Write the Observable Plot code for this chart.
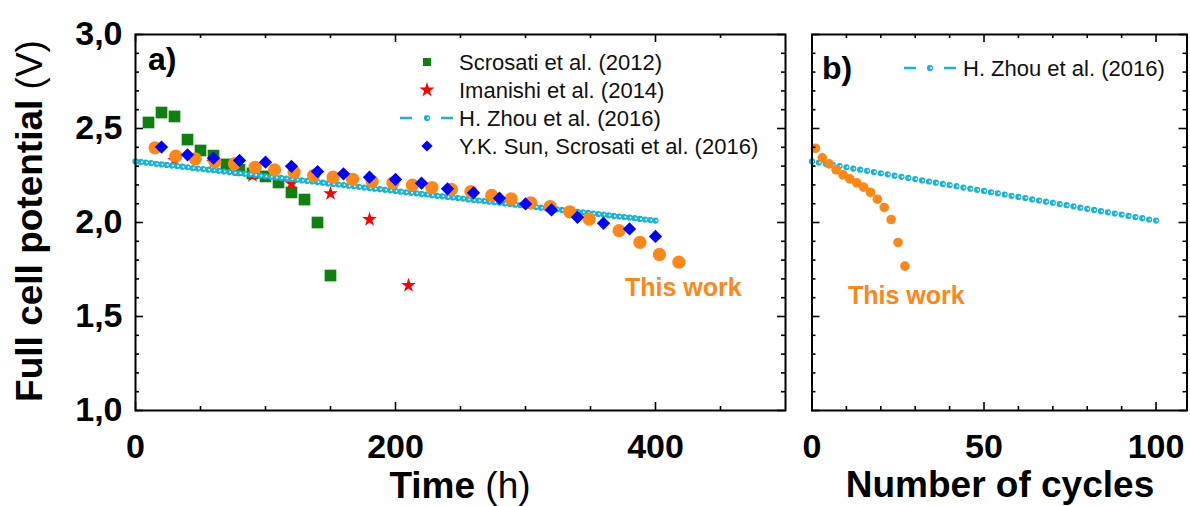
<!DOCTYPE html>
<html><head><meta charset="utf-8">
<script src="https://cdn.jsdelivr.net/npm/d3@7"></script>
<script src="https://cdn.jsdelivr.net/npm/@observablehq/plot@0.6"></script>
<style>
html,body{margin:0;padding:0;background:#fff;}
#wrap{position:relative;width:1190px;height:506px;overflow:hidden;background:#fff;}
#wrap > svg{position:absolute;top:0;}
</style></head><body><div id="wrap"></div>
<script>
// ---------- data ----------
// Panel a: time (h) vs full cell potential (V)
const scrosatiT = [10, 20, 30, 40, 50, 60, 70, 80, 90, 100, 110, 120, 130, 140, 150];
const scrosatiV = [2.532, 2.585, 2.564, 2.441, 2.383, 2.356, 2.309, 2.280, 2.261, 2.245, 2.213, 2.160, 2.122, 2.000, 1.718];

const imanishiT = [30, 60, 90, 120, 150, 180, 210];
const imanishiV = [2.330, 2.319, 2.250, 2.207, 2.154, 2.016, 1.665];

const sunT = [20, 40, 60, 80, 100, 120, 140, 160, 180, 200, 220, 240, 260, 280, 300, 320, 340, 360, 380, 400];
const sunV = [2.401, 2.360, 2.342, 2.330, 2.321, 2.299, 2.271, 2.259, 2.241, 2.229, 2.209, 2.179, 2.158, 2.129, 2.099, 2.067, 2.028, 1.996, 1.966, 1.926];

const workT = [15, 31, 46, 61, 76, 92, 107, 122, 137, 152, 167, 182, 198, 213, 228, 243, 258, 274, 289, 304, 319, 334, 349, 372, 388, 403, 418];
const workV = [2.397, 2.353, 2.339, 2.324, 2.312, 2.294, 2.280, 2.268, 2.250, 2.241, 2.230, 2.218, 2.211, 2.199, 2.186, 2.176, 2.165, 2.144, 2.126, 2.105, 2.085, 2.057, 2.018, 1.957, 1.894, 1.830, 1.789];

// H. Zhou et al. (2016): one value per cycle, cycles 0..100 (4 h per cycle in panel a)
const zhouHoursPerCycle = 4;
const zhouV = [
  2.325, 2.322, 2.319, 2.316, 2.312, 2.309, 2.306, 2.303, 2.300, 2.297,
  2.294, 2.290, 2.287, 2.284, 2.281, 2.278, 2.275, 2.271, 2.268, 2.265,
  2.262, 2.259, 2.256, 2.253, 2.249, 2.246, 2.243, 2.240, 2.237, 2.234,
  2.231, 2.227, 2.224, 2.221, 2.218, 2.215, 2.212, 2.208, 2.205, 2.202,
  2.199, 2.196, 2.193, 2.190, 2.186, 2.183, 2.180, 2.177, 2.174, 2.171,
  2.168, 2.164, 2.161, 2.158, 2.155, 2.152, 2.149, 2.145, 2.142, 2.139,
  2.136, 2.133, 2.130, 2.127, 2.123, 2.120, 2.117, 2.114, 2.111, 2.108,
  2.105, 2.101, 2.098, 2.095, 2.092, 2.089, 2.086, 2.082, 2.079, 2.076,
  2.073, 2.070, 2.067, 2.064, 2.060, 2.057, 2.054, 2.051, 2.048, 2.045,
  2.042, 2.038, 2.035, 2.032, 2.029, 2.026, 2.023, 2.019, 2.016, 2.013,
  2.010
];

// Panel b: number of cycles vs potential ("This work")
const workCycles = [1, 3, 5, 7, 9, 11, 13, 15, 17, 19, 21, 23, 25, 27];
const workCycV = [2.395, 2.344, 2.312, 2.280, 2.254, 2.232, 2.211, 2.188, 2.160, 2.124, 2.080, 2.016, 1.894, 1.768];

// ticks
const yMajor = [1.0, 1.5, 2.0, 2.5, 3.0];
const yMinor = [1.1, 1.2, 1.3, 1.4, 1.6, 1.7, 1.8, 1.9, 2.1, 2.2, 2.3, 2.4, 2.6, 2.7, 2.8, 2.9];
const xMajorA = [0, 200, 400];
const xMinorA = [50, 100, 150, 250, 300, 350, 450];
const xMajorB = [0, 50, 100];
const xMinorB = [10, 20, 30, 40, 60, 70, 80, 90];

const legendA = ["Scrosati et al. (2012)", "Imanishi et al. (2014)", "H. Zhou et al. (2016)", "Y.K. Sun, Scrosati et al. (2016)"];
const legendB = ["H. Zhou et al. (2016)"];

// ---------- styles ----------
const GREEN = "#0f7f0f", RED = "#ff0000", BLUE = "#0000ff", ORANGE = "#ff8717", CYAN = "#17b4d4";
const FONT = "'Liberation Sans', Arial, Helvetica, sans-serif";
const H = 506, TOP = 34, BOTTOM = 96;
const innerH = H - TOP - BOTTOM;
const fmtY = d => d.toFixed(1).replace(".", ",");

const pts = (xs, ys, kx = "x", ky = "y") => xs.map((x, i) => ({[kx]: x, [ky]: ys[i]}));
const zhouA = zhouV.map((v, c) => ({x: c * zhouHoursPerCycle, y: v}));
const zhouB = zhouV.map((v, c) => ({x: c, y: v})).filter(d => d.x % 2 === 0);

function tickMarks(innerW, xMaj, xMin) {
  const maj = 8, mn = 4, sw = 1.6, st = "black";
  return [
    Plot.tickY(yMajor, {y: d => d, insetRight: innerW - maj, stroke: st, strokeWidth: sw}),
    Plot.tickY(yMinor, {y: d => d, insetRight: innerW - mn, stroke: st, strokeWidth: sw}),
    Plot.tickY(yMajor, {y: d => d, insetLeft: innerW - maj, stroke: st, strokeWidth: sw}),
    Plot.tickY(yMinor, {y: d => d, insetLeft: innerW - mn, stroke: st, strokeWidth: sw}),
    Plot.tickX(xMaj, {x: d => d, insetTop: innerH - maj, stroke: st, strokeWidth: sw}),
    Plot.tickX(xMin, {x: d => d, insetTop: innerH - mn, stroke: st, strokeWidth: sw}),
    Plot.tickX(xMaj, {x: d => d, insetBottom: innerH - maj, stroke: st, strokeWidth: sw}),
    Plot.tickX(xMin, {x: d => d, insetBottom: innerH - mn, stroke: st, strokeWidth: sw}),
    Plot.frame({stroke: "black", strokeWidth: 2})
  ];
}

const svgStyle = {fontFamily: FONT, fontSize: "34px", fontWeight: "bold", color: "black", background: "transparent", overflow: "visible"};

// ---------- panel a ----------
const WA = 790, MLA = 135, MRA = 5;
const plotA = Plot.plot({
  width: WA, height: H, marginLeft: MLA, marginRight: MRA, marginTop: TOP, marginBottom: BOTTOM,
  style: svgStyle,
  x: {domain: [0, 500], ticks: xMajorA, tickSize: 0, tickPadding: 23, label: null, tickFormat: d => String(d)},
  y: {domain: [1, 3], ticks: yMajor, tickSize: 0, tickPadding: 13, label: null, tickFormat: fmtY},
  marks: [
    Plot.dot(pts(scrosatiT, scrosatiV), {x: "x", y: "y", symbol: "square", r: 6.6, fill: GREEN, stroke: "none"}),
    Plot.dot(pts(imanishiT, imanishiV), {x: "x", y: "y", symbol: "star", r: 4.6, fill: RED, stroke: "none"}),
    Plot.dot(zhouA, {x: "x", y: "y", r: 3.1, fill: CYAN, stroke: "none"}),
    Plot.dot(zhouA, {x: "x", y: "y", r: 1.0, dx: 1.0, fill: "#e8f8fb", stroke: "none"}),
    Plot.dot(pts(workT, workV), {x: "x", y: "y", r: 6.6, fill: ORANGE, stroke: "none"}),
    Plot.dot(pts(sunT, sunV), {x: "x", y: "y", symbol: "diamond2", r: 6.0, fill: BLUE, stroke: "none"}),
    ...tickMarks(WA - MLA - MRA, xMajorA, xMinorA)
  ]
});
plotA.style.left = "0px";

// ---------- panel b ----------
const WB = 400, MLB = 21.5, MRB = 3.5;
const plotB = Plot.plot({
  width: WB, height: H, marginLeft: MLB, marginRight: MRB, marginTop: TOP, marginBottom: BOTTOM,
  style: svgStyle,
  x: {domain: [0, 109], ticks: xMajorB, tickSize: 0, tickPadding: 23, label: null, tickFormat: d => String(d)},
  y: {domain: [1, 3], axis: null},
  marks: [
    Plot.dot(zhouB, {x: "x", y: "y", r: 3.1, fill: CYAN, stroke: "none"}),
    Plot.dot(zhouB, {x: "x", y: "y", r: 1.0, dx: 1.0, fill: "#e8f8fb", stroke: "none"}),
    Plot.dot(pts(workCycles, workCycV), {x: "x", y: "y", r: 4.8, fill: ORANGE, stroke: "none"}),
    ...tickMarks(WB - MLB - MRB, xMajorB, xMinorB)
  ]
});
plotB.style.left = "790px";

const wrap = document.getElementById("wrap");
wrap.appendChild(plotA);
wrap.appendChild(plotB);

// ---------- overlay: labels & legends ----------
const ov = d3.select(wrap).append("svg")
  .attr("width", 1190).attr("height", 506)
  .style("left", "0px").style("font-family", FONT);

function txt(x, y, s, size, weight, fill = "black", anchor = "start") {
  return ov.append("text").attr("x", x).attr("y", y).attr("font-size", size)
    .attr("font-weight", weight).attr("fill", fill).attr("text-anchor", anchor).text(s);
}
txt(148, 70, "a)", 32, "bold");
txt(822, 79, "b)", 32, "bold");
txt(625, 296, "This work", 25, "bold", ORANGE);
txt(848, 304, "This work", 25, "bold", ORANGE);

// axis titles
const tA = ov.append("text").attr("x", 460).attr("y", 498).attr("font-size", 37).attr("text-anchor", "middle");
tA.append("tspan").attr("font-weight", "bold").text("Time");
tA.append("tspan").attr("font-weight", "normal").text(" (h)");
ov.append("text").attr("x", 1000).attr("y", 497).attr("font-size", 37).attr("font-weight", "bold")
  .attr("text-anchor", "middle").text("Number of cycles");
const tY = ov.append("text").attr("transform", "translate(42,221) rotate(-90)").attr("font-size", 37).attr("text-anchor", "middle");
tY.append("tspan").attr("font-weight", "bold").text("Full cell potential");
tY.append("tspan").attr("font-weight", "normal").text(" (V)");

// legend a
const rowsY = [62, 90, 118, 146];
const symX = 427, textX = 459, LFS = 22;
function zhouSym(cx, cy, x0, x1) {
  ov.append("line").attr("x1", x0).attr("x2", x0 + 12).attr("y1", cy).attr("y2", cy).attr("stroke", CYAN).attr("stroke-width", 2.5);
  ov.append("line").attr("x1", x1 - 12).attr("x2", x1).attr("y1", cy).attr("y2", cy).attr("stroke", CYAN).attr("stroke-width", 2.5);
  ov.append("circle").attr("cx", cx).attr("cy", cy).attr("r", 3.1).attr("fill", CYAN);
  ov.append("circle").attr("cx", cx + 1.0).attr("cy", cy).attr("r", 1.0).attr("fill", "#e8f8fb");
}
ov.append("path").attr("transform", `translate(${symX},${rowsY[0]})`).attr("d", d3.symbol(d3.symbolSquare, 64)()).attr("fill", GREEN);
ov.append("path").attr("transform", `translate(${symX},${rowsY[1]})`).attr("d", d3.symbol(d3.symbolStar, 70)()).attr("fill", RED);
zhouSym(symX, rowsY[2], 400, 453);
ov.append("path").attr("transform", `translate(${symX},${rowsY[3]})`).attr("d", d3.symbol(d3.symbolDiamond2, 80)()).attr("fill", BLUE);
legendA.forEach((s, i) => txt(textX, rowsY[i] + 8, s, LFS, "normal", "#111"));

// legend b
zhouSym(930, 68, 904, 956);
legendB.forEach((s, i) => txt(963, 68 + 8, s, LFS, "normal", "#111"));
</script></body></html>
